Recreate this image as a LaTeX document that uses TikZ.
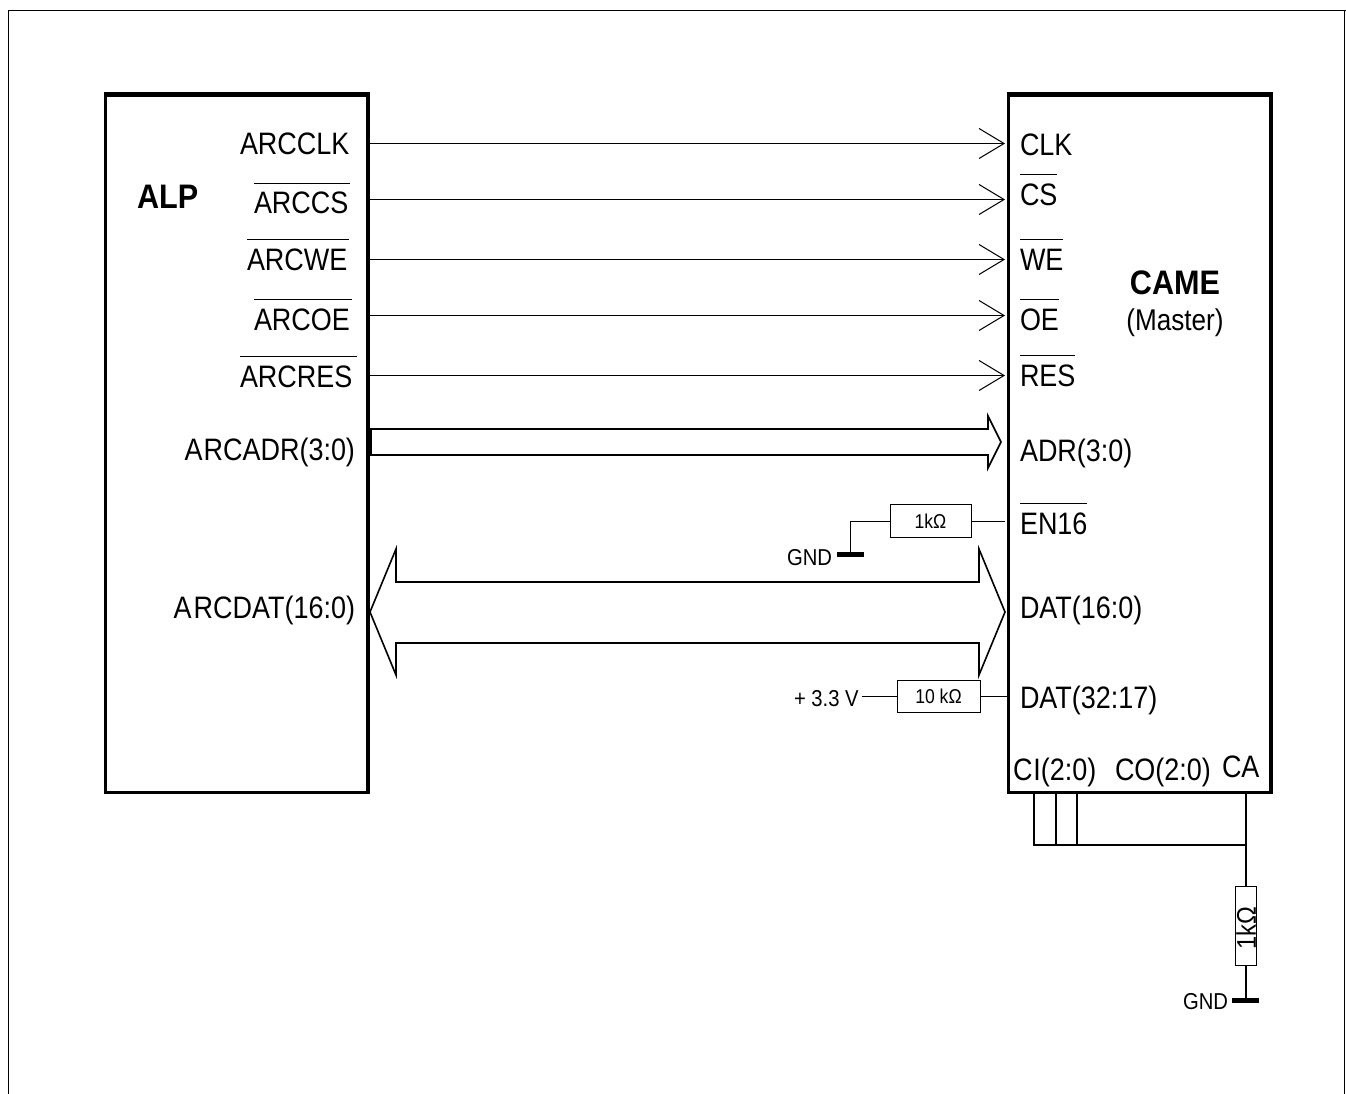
\documentclass[tikz,border=0pt]{standalone}
\usepackage{fontspec}
\usetikzlibrary{arrows.meta}
\setmainfont{Liberation Sans}
\newfontfamily\lab[FakeStretch=0.87]{Liberation Sans}
\newfontfamily\lsm[FakeStretch=0.88]{Liberation Sans}
\newfontfamily\labb[FakeStretch=0.9]{Liberation Sans Bold}
\newcommand{\obar}[1]{\vbox{\hrule height 1pt\kern 8.3pt\hbox{#1}}}
\tikzset{
  x=1pt,y=-1pt,
  pin/.style={inner sep=0pt,outer sep=0pt,anchor=base west,font=\lab\fontsize{31}{31}\selectfont},
  pinr/.style={pin,anchor=base east},
  ttl/.style={inner sep=0pt,outer sep=0pt,anchor=base,font=\labb\fontsize{34}{34}\selectfont},
  small/.style={inner sep=0pt,outer sep=0pt,anchor=base west,font=\lsm\fontsize{23}{23}\selectfont},
  chipline/.style={line width=3.4pt,line cap=butt},
  wire/.style={line width=1pt},
  lead/.style={line width=1.6pt},
  sig/.style={line width=1pt,-{Straight Barb[length=25pt,width=30pt,line width=1pt]}},
  bus/.style={line width=1.6pt,line join=miter,fill=white},
  res/.style={draw,line width=1pt,fill=white,inner sep=0pt,minimum width=81pt,minimum height=33pt,font=\lsm\fontsize{20}{20}\selectfont},
  gndbar/.style={line width=5pt},
}
\begin{document}
\begin{tikzpicture}
\useasboundingbox (0,0) rectangle (1346,1094);
% frame
\coordinate (fbl) at (8.5,1094);
\coordinate (ftl) at (8.5,10.5);
\coordinate (ftr) at (1346,10.5);
\coordinate (frt) at (1344.5,10.5);
\coordinate (fbr) at (1344.5,1094);
\draw[line width=1.2pt] (fbl) -- (ftl) -- (ftr);
\draw[line width=1.2pt] (frt) -- (fbr);
% chips
\coordinate (aNW) at (105.5,94);
\coordinate (aSE) at (368,792.5);
\coordinate (cNW) at (1008.5,94);
\coordinate (cSE) at (1271,792.5);
\draw[chipline] (aNW) rectangle (aSE);
\draw[chipline] (cNW) rectangle (cSE);
\draw[line width=5pt] (103.8,94.5) -- (369.7,94.5);
\draw[line width=5pt] (1006.8,94.5) -- (1272.7,94.5);
% left labels
\node[ttl,anchor=base west] (alp) at (137,208) {ALP};
\node[pin] (l1) at (240,155) {ARCCLK};
\node[pin] (l2) at (254,214) {\obar{ARCCS\kern 2pt}};
\node[pin] (l3) at (247,270) {\obar{ARCWE\kern 2pt}};
\node[pin] (l4) at (254,330) {\obar{ARCOE\kern 2pt}};
\node[pin] (l5) at (240,387) {\obar{ARCRES\kern 5pt}};
\node[pinr] (l6) at (355,460) {A\kern 1pt RCADR(3:0)};
\node[pinr] (l7) at (355,618) {A\kern 2pt RCDAT(16:0)};
% right labels
\node[pin] (r1) at (1020,156) {CLK};
\node[pin] (r2) at (1020,205) {\obar{CS}};
\node[pin] (r3) at (1020,270) {\obar{WE}};
\node[pin] (r4) at (1020,330) {\obar{OE}};
\node[pin] (r5) at (1020,386) {\obar{RES}};
\node[pin] (r6) at (1020,461) {ADR(3:0)};
\node[pin] (r7) at (1020,534) {\obar{EN16}};
\node[pin] (r8) at (1020,618) {DAT(16:0)};
\node[pin] (r9) at (1020,708) {DAT(32:17)};
\node[pin] (r10) at (1013,780) {C\kern 1pt I(2:0)};
\node[pin] (r11) at (1115,780) {CO(2:0)};
\node[pin] (r12) at (1222,777) {CA};
\node[ttl] (came) at (1175,294) {CAME};
\node[pin,anchor=base,font=\lab\fontsize{30}{30}\selectfont] (mst) at (1175,330) {(Master)};
% single signals
\foreach \n/\y in {a/143.5,b/199.5,c/259.5,d/315.5,e/375.5}{
  \coordinate (s\n) at (368,\y);
  \coordinate (t\n) at (1005,\y);
  \draw[sig] (s\n) -- (t\n);
}
% address bus
\coordinate (ab1) at (371,429);
\coordinate (ab2) at (988,429);
\coordinate (ab3) at (988,416);
\coordinate (ab4) at (1001,442);
\coordinate (ab5) at (988,468);
\coordinate (ab6) at (988,455);
\coordinate (ab7) at (371,455);
\draw[bus] (ab1) -- (ab2) -- (ab3) -- (ab4) -- (ab5) -- (ab6) -- (ab7) -- cycle;
% data bus
\coordinate (d1) at (370,612);
\coordinate (d2) at (396,549);
\coordinate (d3) at (396,582);
\coordinate (d4) at (979,582);
\coordinate (d5) at (979,549);
\coordinate (d6) at (1005,612);
\coordinate (d7) at (979,675);
\coordinate (d8) at (979,643);
\coordinate (d9) at (396,643);
\coordinate (d10) at (396,675);
\draw[bus] (d1) -- (d2) -- (d3) -- (d4) -- (d5) -- (d6) -- (d7) -- (d8) -- (d9) -- (d10) -- cycle;
% EN16 pull-down
\node[res] (r1k) at (930.5,521) {1kΩ};
\coordinate (en) at (1005,521);
\coordinate (g1) at (850,554);
\coordinate (g1l) at (837,554);
\coordinate (g1r) at (864,554);
\draw[wire] (en) -- (r1k);
\draw[wire] (r1k.west) -| (g1);
\draw[gndbar] (g1l) -- (g1r);
\node[small] (gnd1) at (787,565) {GND};
% DAT(32:17) pull-up
\node[res,minimum width=83pt,minimum height=32pt] (r10k) at (938.5,696.5) {10 kΩ};
\coordinate (dp) at (1008,696.5);
\node[small] (vcc) at (794,706) {+ 3.3 V};
\coordinate (vw) at (862,696.5);
\draw[wire] (vw) -- (r10k);
\draw[wire] (r10k) -- (dp);
% CI / CA
\coordinate (ci1) at (1034,793);
\coordinate (ci2) at (1056,793);
\coordinate (ci3) at (1077,793);
\coordinate (ca) at (1246,793);
\coordinate (j) at (1246,845);
\draw[lead] (ci1) |- (j);
\draw[lead] (ci2) -- (ci2 |- j);
\draw[lead] (ci3) -- (ci3 |- j);
\draw[lead] (ca) -- (j);
\node[res,minimum width=79pt,minimum height=21pt,rotate=90,font=\lsm\fontsize{27}{27}\selectfont] (r1kb) at (1246,926) {\raisebox{-3pt}{1kΩ}\kern 5pt};
\coordinate (g2) at (1246,1000);
\coordinate (g2l) at (1232,1000);
\coordinate (g2r) at (1259,1000);
\draw[lead] (j) -- (r1kb.east);
\draw[lead] (r1kb.west) -- (g2);
\draw[gndbar] (g2l) -- (g2r);
\node[small] (gnd2) at (1183,1009) {GND};
\end{tikzpicture}
\end{document}
